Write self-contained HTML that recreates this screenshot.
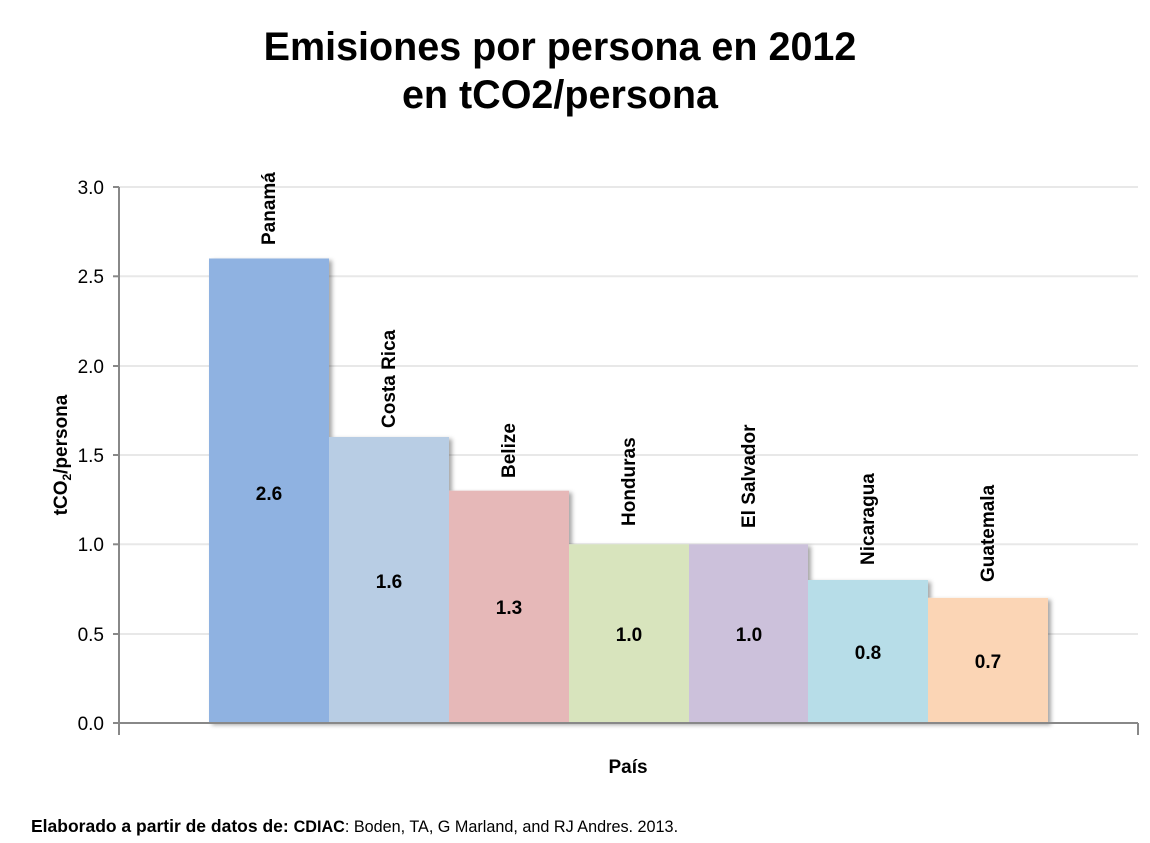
<!DOCTYPE html>
<html><head><meta charset="utf-8"><style>body{margin:0;background:#fff}svg{display:block}text{font-family:"Liberation Sans",Arial,sans-serif}</style></head><body>
<svg width="1150" height="843" viewBox="0 0 1150 843" xmlns="http://www.w3.org/2000/svg">
<defs><filter id="sh" x="-10%" y="-10%" width="130%" height="130%"><feDropShadow dx="3" dy="2" stdDeviation="2" flood-color="#000" flood-opacity="0.35"/></filter></defs>
<text x="560" y="60" font-size="39.5" font-weight="bold" text-anchor="middle">Emisiones por persona en 2012</text>
<text x="560" y="108" font-size="39.5" font-weight="bold" text-anchor="middle">en tCO2/persona</text>
<g stroke="#e8e8e8" stroke-width="2">
<line x1="119" y1="187" x2="1138" y2="187"/><line x1="119" y1="276.3" x2="1138" y2="276.3"/><line x1="119" y1="366" x2="1138" y2="366"/><line x1="119" y1="455" x2="1138" y2="455"/><line x1="119" y1="544.3" x2="1138" y2="544.3"/><line x1="119" y1="634" x2="1138" y2="634"/></g>
<g filter="url(#sh)">
<rect x="209" y="258.5" width="120" height="464.5" fill="#8fb2e1"/>
<rect x="329" y="437" width="120" height="286" fill="#b8cde4"/>
<rect x="449" y="490.7" width="120" height="232.3" fill="#e6b8b8"/>
<rect x="569" y="544.3" width="120" height="178.7" fill="#d8e4bd"/>
<rect x="689" y="544.3" width="119" height="178.7" fill="#ccc1db"/>
<rect x="808" y="580" width="120" height="143" fill="#b7dde8"/>
<rect x="928" y="597.9" width="120" height="125.1" fill="#fbd5b5"/>
</g>
<g stroke="#888" stroke-width="2">
<line x1="119" y1="187" x2="119" y2="735"/><line x1="113" y1="723" x2="1138" y2="723"/><line x1="1138" y1="723" x2="1138" y2="735"/>
<line x1="113" y1="187" x2="119" y2="187"/><line x1="113" y1="276.3" x2="119" y2="276.3"/><line x1="113" y1="366" x2="119" y2="366"/><line x1="113" y1="455" x2="119" y2="455"/><line x1="113" y1="544.3" x2="119" y2="544.3"/><line x1="113" y1="634" x2="119" y2="634"/></g>
<g font-size="19" text-anchor="end">
<text x="104" y="194">3.0</text><text x="104" y="283">2.5</text><text x="104" y="373">2.0</text><text x="104" y="462">1.5</text><text x="104" y="551">1.0</text><text x="104" y="641">0.5</text><text x="104" y="730">0.0</text></g>
<text transform="translate(67,455) rotate(-90)" font-size="19" font-weight="bold" text-anchor="middle">tCO<tspan font-size="12" dy="4">2</tspan><tspan dy="-4">/persona</tspan></text>
<g font-size="19" font-weight="bold">
<text transform="translate(275,245) rotate(-90)">Panamá</text>
<text transform="translate(395,428) rotate(-90)">Costa Rica</text>
<text transform="translate(515,478) rotate(-90)">Belize</text>
<text transform="translate(635,526) rotate(-90)">Honduras</text>
<text transform="translate(755,528) rotate(-90)">El Salvador</text>
<text transform="translate(874,565) rotate(-90)">Nicaragua</text>
<text transform="translate(994,582) rotate(-90)">Guatemala</text>
</g>
<g font-size="19" font-weight="bold" text-anchor="middle">
<text x="269" y="500">2.6</text><text x="389" y="588">1.6</text><text x="509" y="614">1.3</text><text x="629" y="641">1.0</text><text x="749" y="641">1.0</text><text x="868" y="659">0.8</text><text x="988" y="668">0.7</text></g>
<text x="628" y="773" font-size="19" font-weight="bold" text-anchor="middle">País</text>
<text x="31" y="832" font-size="17.5"><tspan font-weight="bold">Elaborado a partir de datos de: </tspan><tspan font-weight="bold" font-size="16.2">CDIAC</tspan><tspan font-size="16.2">: Boden, TA, G Marland, and RJ Andres. 2013.</tspan></text>
</svg>
</body></html>
